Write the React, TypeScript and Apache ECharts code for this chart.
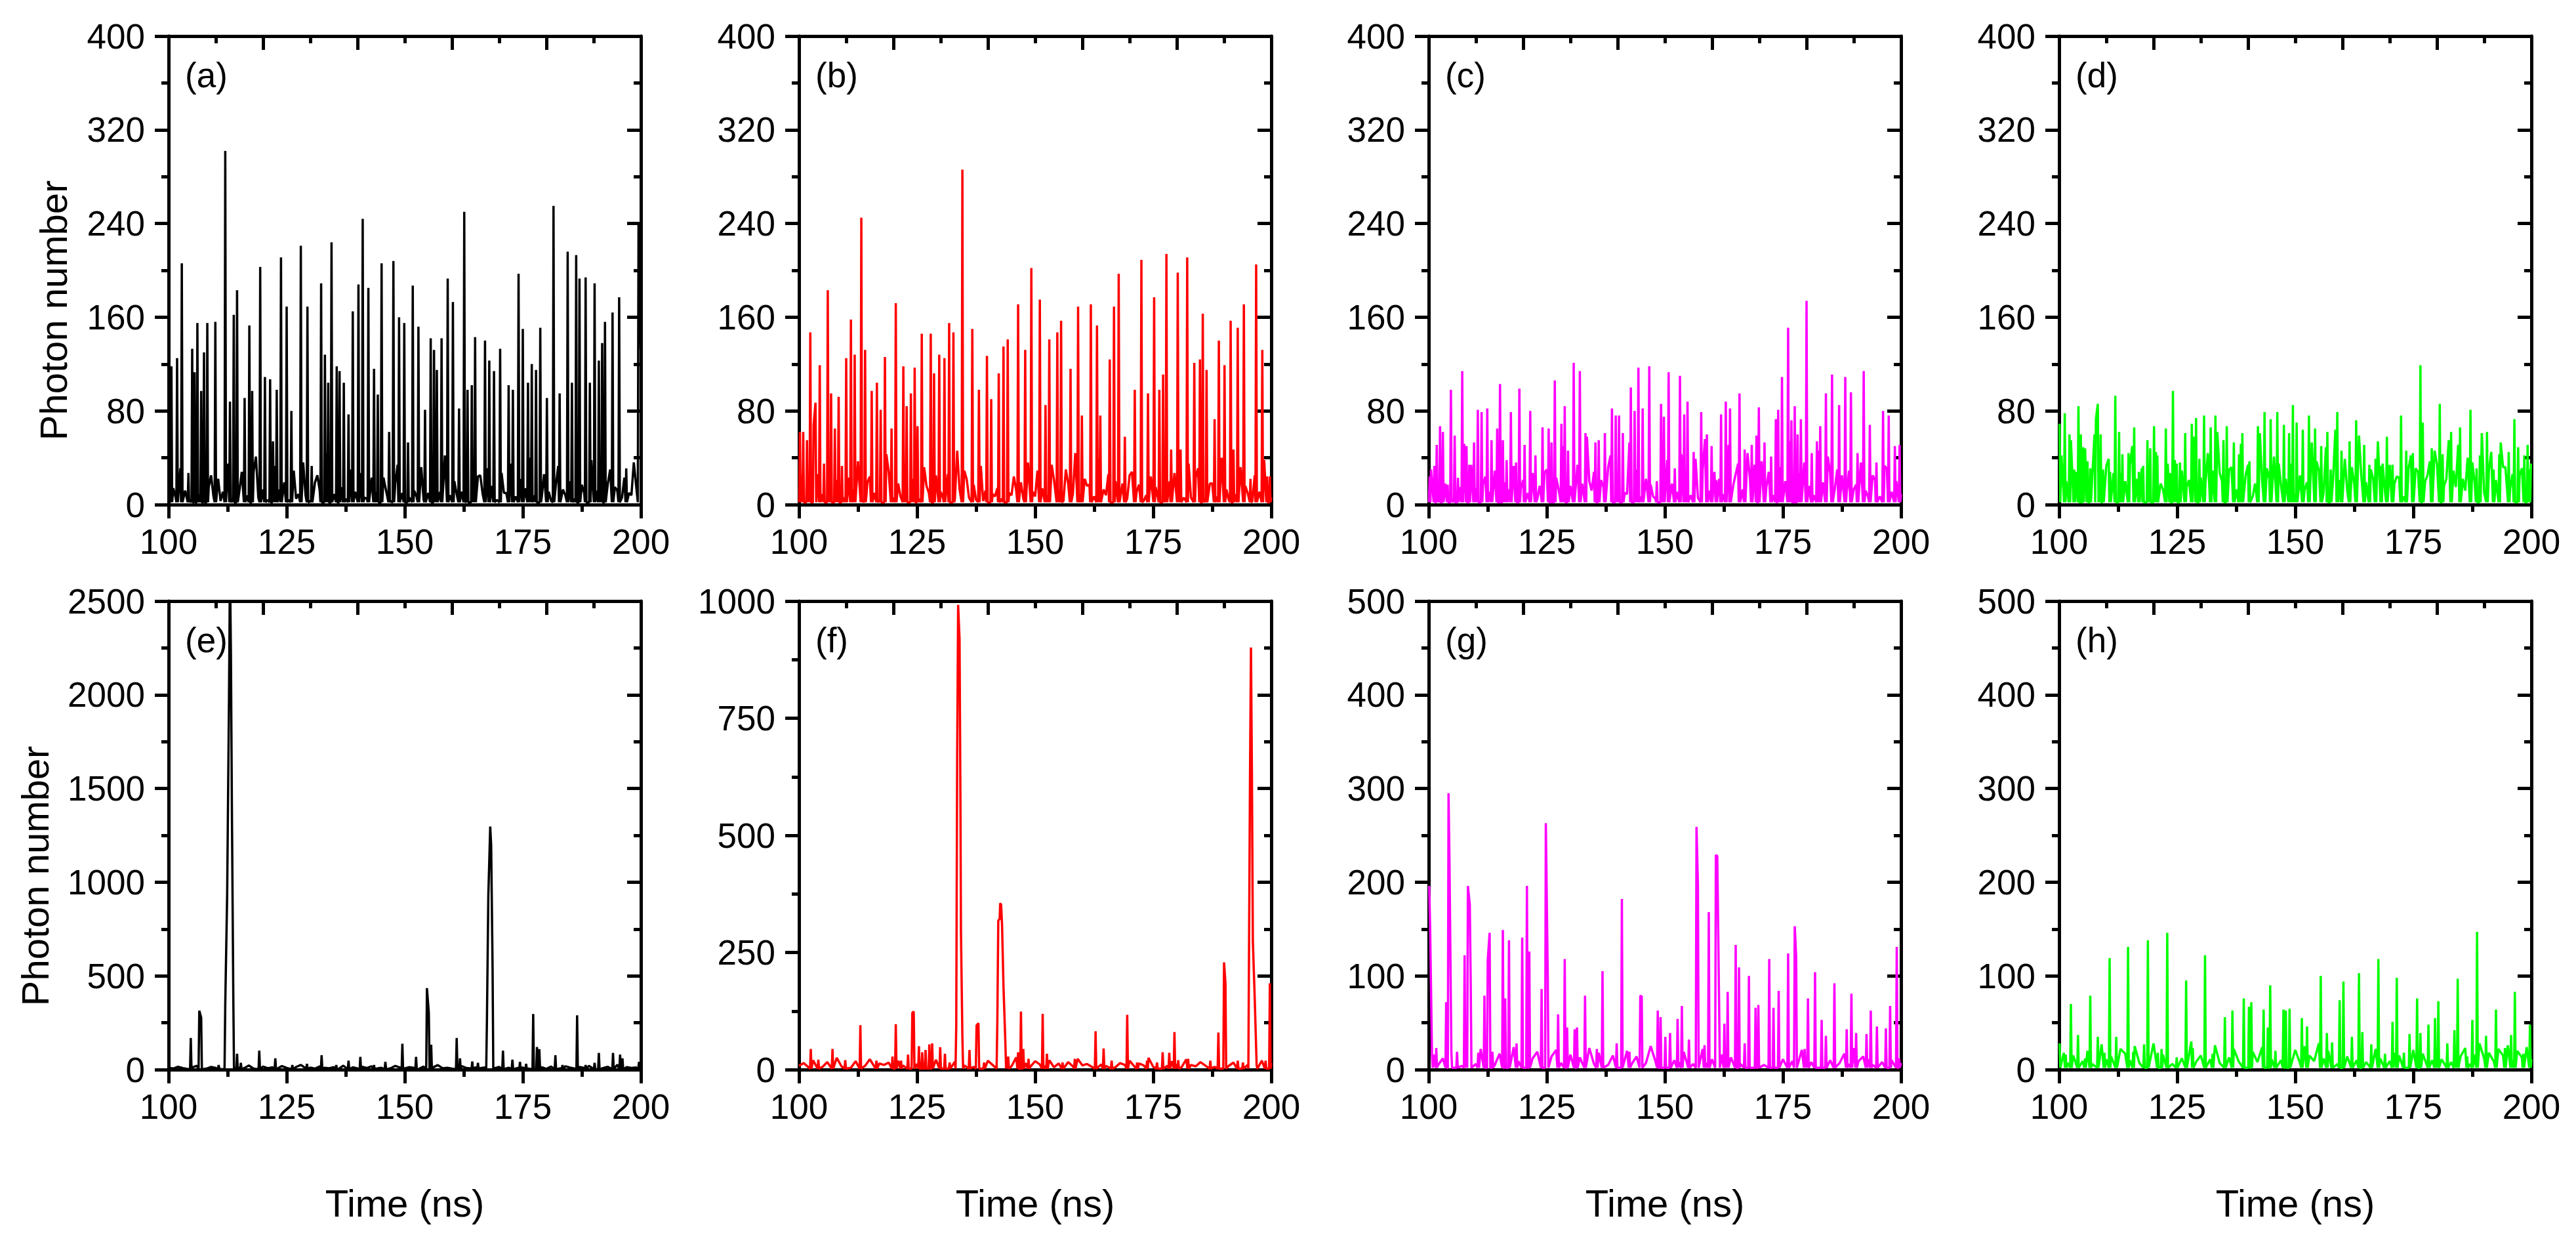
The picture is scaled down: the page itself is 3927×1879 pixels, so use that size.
import React, { useEffect, useRef } from "react";
import * as echarts from "echarts";

// ---------- data ----------
const X_MIN = 100;
const X_MAX = 200;
const X_TICK_STEP = 25;
const X_TOP_TICK_STEP = 20;

const panelLetters = ["(a)", "(b)", "(c)", "(d)", "(e)", "(f)", "(g)", "(h)"];
const yMaxes = [400, 400, 400, 400, 2500, 1000, 500, 500];
const yTickSteps = [80, 80, 80, 80, 500, 250, 100, 100];
const yRightTickSteps = [80, 80, 80, 80, 500, 200, 100, 100];
const xAxisTitle = "Time (ns)";
const yAxisTitle = "Photon number";

// peaks: flat pairs [time (ns), photon number]
const peaksA = [100.6,118, 101.8,125, 102.8,206, 104.2,27, 105.0,133, 105.5,113, 106.1,155, 106.9,97, 107.5,130, 108.2,155, 109.9,156, 112.0,302, 113.0,88, 113.8,162, 114.5,183, 116.1,91, 117.1,153, 117.7,97, 119.4,203, 120.4,109, 121.5,107, 122.1,54, 122.9,98, 123.8,211, 125.0,169, 126.0,80, 128.0,221, 129.4,169, 130.3,33, 132.3,189, 133.1,128, 133.8,104, 134.5,224, 135.6,118, 136.2,114, 137.1,104, 138.1,77, 139.0,165, 140.2,188, 141.1,244, 142.3,185, 143.5,116, 144.3,94, 145.1,206, 146.7,62, 147.6,208, 148.8,160, 149.9,155, 150.7,53, 151.7,187, 152.9,152, 154.3,81, 155.5,142, 156.2,132, 156.8,115, 157.8,142, 159.1,193, 160.2,173, 161.5,82, 162.6,250, 163.3,98, 164.2,102, 164.9,143, 167.0,140, 167.9,123, 168.9,114, 170.2,133, 172.0,102, 172.9,98, 174.1,197, 175.0,150, 176.1,104, 176.9,120, 177.8,115, 178.7,151, 180.1,91, 181.5,255, 182.8,95, 184.5,216, 185.4,104, 186.3,213, 187.0,193, 188.3,194, 189.2,104, 190.2,189, 191.1,123, 191.8,138, 192.4,156, 194.0,164, 195.4,177, 196.9,31, 199.5,239, 199.95,132];
const peaksB = [100.2,62, 100.9,62, 101.7,55, 102.4,147, 103.1,68, 103.5,87, 104.4,119, 105.3,35, 106.1,183, 106.8,95, 107.6,65, 108.4,92, 109.1,33, 110.0,125, 111.0,158, 111.8,128, 113.2,245, 114.0,132, 115.4,97, 116.5,104, 117.3,81, 118.2,126, 119.6,65, 120.5,172, 122.1,118, 122.8,84, 123.7,95, 124.5,117, 125.1,67, 126.0,146, 127.9,146, 128.6,112, 129.7,128, 130.8,125, 131.8,155, 132.7,147, 134.6,286, 136.7,150, 138.1,98, 139.8,127, 140.7,90, 142.3,112, 143.3,135, 144.2,141, 146.4,171, 147.9,132, 149.2,202, 151.0,175, 152.2,85, 153.0,141, 154.7,147, 155.5,157, 157.5,116, 159.1,169, 159.9,76, 161.8,171, 163.1,153, 163.8,76, 165.8,124, 166.7,169, 167.7,197, 169.0,58, 171.1,98, 172.5,209, 173.9,95, 175.2,177, 176.3,98, 177.1,111, 177.8,214, 178.8,47, 180.2,198, 180.8,47, 182.2,211, 183.7,121, 184.9,124, 185.5,163, 186.3,115, 188.0,73, 188.9,140, 190.1,119, 191.4,157, 192.0,47, 192.9,151, 194.2,171, 195.6,22, 196.8,205, 198.1,132, 199.1,24, 199.7,24];
const peaksC = [100.2,24, 101.2,33, 101.7,51, 102.4,67, 103.0,62, 104.0,17, 104.7,98, 105.5,59, 106.2,23, 107.1,114, 108.0,50, 108.6,34, 109.6,53, 110.4,81, 111.2,79, 112.4,82, 113.3,55, 114.5,65, 115.1,103, 115.7,55, 116.5,38, 117.4,79, 118.5,36, 119.2,99, 120.3,51, 121.5,80, 122.6,42, 124.1,66, 125.4,65, 126.0,53, 126.7,106, 128.1,69, 128.8,84, 129.5,46, 130.7,121, 132.0,114, 133.2,61, 135.3,53, 136.0,55, 137.3,61, 138.8,82, 139.6,76, 140.3,76, 141.1,61, 142.8,100, 143.6,80, 144.4,117, 145.3,82, 146.7,118, 148.3,20, 149.2,86, 149.8,75, 150.8,113, 152.1,31, 153.2,110, 154.1,77, 154.8,88, 156.1,45, 157.7,79, 158.9,60, 159.9,50, 160.9,21, 161.9,77, 162.9,88, 163.8,82, 165.8,95, 166.9,47, 168.4,51, 169.4,59, 169.9,83, 171.1,53, 172.5,41, 173.5,73, 174.0,81, 174.8,109, 176.1,151, 176.8,72, 177.5,84, 178.1,60, 178.8,73, 180.0,174, 181.1,44, 182.2,54, 182.9,67, 184.1,95, 185.4,111, 186.9,85, 188.2,109, 189.4,96, 190.8,44, 192.1,114, 193.4,68, 194.8,36, 196.2,80, 197.4,76, 198.7,50, 199.7,51];
const peaksD = [100.1,69, 101.2,78, 102.2,60, 103.2,30, 104.1,84, 104.6,60, 105.1,49, 106.0,37, 106.6,31, 107.8,73, 108.2,86, 108.8,60, 109.3,30, 110.8,28, 111.9,93, 112.7,62, 113.4,43, 114.7,44, 115.9,66, 116.9,28, 117.8,33, 118.7,55, 119.3,48, 120.1,67, 120.8,42, 122.6,65, 123.5,27, 124.1,97, 124.9,35, 125.6,36, 126.7,61, 128.1,69, 129.0,74, 129.7,39, 130.7,76, 132.1,66, 133.1,76, 134.8,55, 135.5,67, 137.0,53, 138.1,43, 138.8,61, 140.3,37, 142.1,67, 143.5,79, 144.8,73, 146.2,79, 147.6,68, 148.7,61, 149.5,85, 150.3,70, 151.6,64, 152.9,76, 154.2,65, 155.5,50, 156.8,62, 157.5,30, 158.9,79, 159.8,46, 161.5,54, 162.9,72, 164.6,51, 165.7,34, 167.0,39, 168.2,33, 169.4,58, 170.6,34, 172.4,76, 173.5,46, 174.9,44, 176.5,119, 177.0,70, 178.9,48, 180.6,86, 181.2,43, 183.0,62, 184.9,66, 187.1,81, 188.4,31, 189.1,42, 190.6,62, 192.0,30, 193.2,43, 195.2,45, 196.4,73, 197.2,49, 198.5,42, 199.2,51, 199.9,35];
const peaksE = [104.7,169, 106.5,314, 106.9,278, 110.6,24, 112.0,350, 112.4,930, 112.8,2005, 113.0,2700, 113.2,2210, 113.4,1413, 113.7,400, 114.5,85, 115.3,36, 119.2,101, 122.6,60, 126.2,24, 129.3,31, 132.4,77, 135.5,24, 138.1,48, 140.6,68, 143.5,24, 145.9,41, 149.5,138, 152.4,68, 154.7,435, 155.1,302, 155.6,133, 161.0,169, 161.7,60, 164.3,43, 165.5,36, 167.4,254, 167.7,930, 168.1,1297, 168.3,1196, 168.6,543, 170.8,101, 172.8,53, 174.4,41, 175.7,31, 177.2,297, 178.0,121, 178.5,109, 181.9,77, 183.4,24, 186.5,290, 188.3,24, 190.2,36, 191.1,89, 194.1,89, 195.6,80, 196.1,60, 199.6,41];
const peaksF = [102.5,44, 104.1,21, 107.1,44, 109.8,20, 113.0,95, 116.4,19, 119.8,28, 120.5,97, 121.6,19, 123.1,32, 124.0,121, 124.3,124, 125.4,50, 126.1,37, 126.8,42, 127.6,54, 128.2,56, 129.9,48, 130.9,34, 131.9,15, 133.3,94, 133.5,675, 133.7,992, 134.0,918, 134.2,550, 134.3,293, 134.6,70, 136.1,42, 137.6,94, 138.0,99, 139.2,15, 142.0,104, 142.2,318, 142.5,322, 142.6,355, 142.8,352, 143.0,308, 143.3,178, 143.7,57, 144.3,28, 146.4,37, 147.0,124, 147.5,44, 148.6,23, 151.6,119, 152.5,34, 155.8,15, 158.4,23, 162.8,82, 164.5,45, 166.2,19, 169.5,117, 171.6,15, 173.7,19, 175.8,15, 177.0,37, 178.4,36, 179.5,80, 180.3,20, 182.4,23, 187.1,19, 188.8,79, 190.0,229, 190.3,184, 192.9,19, 194.0,15, 195.3,273, 195.5,630, 195.7,901, 195.9,637, 196.1,275, 196.5,151, 196.9,10, 198.8,19, 199.7,184];
const peaksG = [100.1,196, 100.3,152, 100.7,15, 101.6,23, 103.7,72, 104.2,295, 104.4,221, 104.8,18, 106.0,19, 107.6,122, 108.3,196, 108.7,176, 108.9,90, 110.5,18, 111.8,79, 112.5,117, 112.9,146, 113.5,19, 115.7,149, 116.2,76, 117.0,138, 118.6,28, 119.8,141, 120.8,196, 121.3,126, 123.9,86, 124.8,263, 125.2,102, 127.4,59, 128.8,118, 129.3,45, 130.9,43, 131.4,45, 133.1,79, 135.6,22, 136.8,105, 139.8,28, 140.9,182, 142.5,19, 144.8,79, 145.1,78, 148.5,63, 149.1,56, 150.1,35, 151.1,39, 152.7,54, 153.6,68, 155.1,32, 156.7,259, 157.0,198, 158.4,26, 159.3,168, 160.8,229, 161.1,228, 161.5,64, 162.6,49, 163.3,83, 165.0,133, 165.7,109, 166.9,28, 167.8,100, 169.2,66, 169.8,69, 172.1,118, 173.0,66, 174.1,84, 176.1,124, 177.5,153, 177.8,121, 179.6,22, 180.3,76, 181.8,104, 183.2,53, 184.1,36, 185.9,92, 188.5,43, 189.5,81, 190.5,39, 192.7,38, 193.6,63, 194.9,46, 196.8,44, 197.7,68, 199.1,131, 199.6,12];
const peaksH = [100.1,28, 101.4,16, 102.5,70, 104.0,37, 105.5,12, 106.6,79, 108.2,35, 109.6,18, 110.7,119, 112.1,35, 114.6,131, 115.7,19, 118.0,27, 118.8,138, 120.9,18, 121.7,22, 122.9,146, 124.9,13, 126.9,95, 128.3,23, 130.9,122, 132.5,17, 135.1,56, 136.7,63, 139.1,76, 140.2,67, 140.7,72, 143.3,64, 144.2,45, 144.7,90, 145.8,20, 147.5,64, 148.0,63, 148.8,65, 151.4,55, 152.5,46, 155.4,100, 156.7,39, 157.8,29, 159.4,74, 160.2,94, 162.0,35, 163.5,103, 164.2,40, 166.1,27, 167.6,118, 169.0,17, 170.6,51, 171.5,98, 173.0,18, 174.2,38, 175.8,76, 176.5,39, 178.2,48, 179.6,55, 180.3,73, 182.2,28, 183.7,42, 184.4,97, 186.4,14, 187.5,53, 188.5,147, 190.4,36, 192.5,64, 194.4,23, 195.7,37, 196.5,83, 198.3,17, 199.7,48];

// low-level background counts, sampled at whole nanoseconds (100–200 ns)
const floorA = [8,14,5,22,9,4,17,11,6,25,10,3,15,7,20,12,5,9,28,6,13,4,18,10,7,24,11,5,16,8,3,19,12,6,27,9,14,4,21,10,7,15,5,23,11,8,13,3,18,9,26,6,12,17,4,10,20,7,14,5,22,9,11,3,16,8,25,6,13,19,4,10,15,7,21,12,5,9,24,6,14,3,17,11,8,20,5,13,10,27,7,15,4,18,9,12,6,23,8,16,10];
const floorB = [12,6,19,4,26,9,15,3,21,8,11,30,5,17,7,24,10,4,14,28,6,18,9,3,22,12,7,16,5,25,11,8,20,4,13,29,6,17,10,3,23,9,14,5,27,8,12,19,4,15,7,26,10,5,21,13,3,18,9,24,6,16,11,4,28,8,14,20,5,12,25,7,17,3,22,10,6,19,13,4,27,9,15,6,23,11,5,18,8,26,12,4,20,7,16,10,3,24,9,14,6];
const floorC = [15,22,8,31,12,5,26,18,9,34,14,7,24,11,29,6,19,13,33,8,21,10,27,5,17,30,12,23,7,35,16,9,25,4,20,28,11,15,32,6,18,24,9,13,30,7,22,17,5,27,14,10,33,8,19,25,12,6,29,16,21,9,31,13,7,26,18,4,23,34,10,15,28,8,20,12,30,6,24,17,11,32,9,19,5,27,14,22,8,29,13,18,35,7,25,10,16,31,11,20,9];
const floorD = [18,30,9,25,14,36,7,22,28,12,33,16,8,27,20,34,11,24,6,31,17,26,13,35,10,21,29,15,32,8,23,19,37,12,27,9,30,18,24,14,34,7,26,20,31,11,28,16,22,35,9,25,13,33,17,29,10,36,21,15,27,12,32,8,24,19,30,14,26,11,34,18,23,7,31,16,28,13,25,20,35,9,22,30,15,27,12,33,18,24,10,29,17,21,32,8,26,14,31,19,23];
const floorE = [10,6,15,8,4,12,20,7,5,14,9,3,18,11,6,13,8,22,5,10,16,7,12,4,19,9,6,14,25,8,11,5,17,10,7,13,4,21,9,12,6,15,8,18,5,10,14,7,20,11,6,13,9,4,16,8,12,24,7,10,5,15,19,9,6,13,8,11,28,7,14,5,10,17,9,12,6,22,8,13,4,16,10,7,18,11,5,14,9,20,6,12,8,15,10,26,7,13,9,11,6];
const floorF = [8,14,5,20,10,6,16,9,25,7,12,4,18,11,8,22,6,13,10,15,5,19,9,28,7,12,16,6,10,21,8,14,5,17,11,9,24,6,13,8,19,10,5,15,12,7,26,9,14,6,18,11,8,20,5,13,10,16,7,23,9,12,6,17,11,8,21,5,14,10,19,7,13,9,25,6,15,11,8,18,12,5,22,10,7,16,9,13,6,20,11,8,15,5,17,10,12,7,19,9,14];
const floorG = [9,16,5,12,20,7,14,4,18,10,6,22,8,13,5,17,11,7,24,9,15,6,12,19,8,5,14,21,7,11,16,4,13,9,23,6,18,10,5,15,12,8,20,6,14,11,7,25,9,13,5,17,10,8,19,12,6,15,22,7,11,4,16,9,13,20,6,10,18,8,14,5,12,24,7,11,16,9,6,21,13,8,15,5,19,10,12,7,17,6,23,9,14,11,5,18,8,13,10,16,7];
const floorH = [12,18,7,15,24,9,20,6,16,27,11,14,8,22,17,10,25,7,19,13,28,9,16,21,6,23,12,18,30,8,15,20,11,26,7,17,13,22,9,29,14,19,8,24,16,11,27,10,18,13,21,7,25,15,9,28,12,20,17,6,23,14,19,10,26,8,16,22,12,29,9,18,15,24,7,21,13,17,27,10,20,11,25,8,19,14,23,6,16,28,12,18,9,22,15,26,10,20,13,24,11];

// small background spikes, sampled at half nanoseconds (100.5–199.5 ns), top row only
const floorA2 = [20,6,31,12,4,26,9,38,15,7,22,11,35,5,18,28,8,14,41,10,24,6,33,13,19,4,29,9,36,16,7,25,12,44,8,21,15,5,30,11,27,6,39,14,9,23,17,4,34,10,26,13,7,32,18,5,28,11,42,8,20,15,6,37,12,24,9,31,16,4,27,10,35,7,22,14,40,8,19,26,11,5,33,13,29,9,21,17,6,38,12,25,8,30,15,4,23,10,36,13];
const floorB2 = [25,8,34,14,5,29,11,40,17,6,23,13,37,4,19,31,9,16,43,11,27,7,35,12,21,5,32,10,38,18,6,26,14,46,9,22,16,4,33,12,28,7,41,15,10,24,19,5,36,11,29,14,8,34,20,6,30,12,44,9,22,17,7,39,13,26,10,33,18,5,28,11,37,8,24,15,42,9,20,27,12,6,35,14,31,10,23,18,7,40,13,27,9,32,16,5,25,11,38,14];
const floorC2 = [30,12,45,18,8,36,15,52,22,9,28,17,48,7,25,40,13,20,55,14,33,10,44,16,27,8,39,13,50,23,9,34,18,58,12,29,21,6,42,15,37,10,53,19,13,31,24,7,47,14,38,18,11,43,26,8,39,16,56,12,28,22,9,51,17,35,13,44,24,7,37,15,49,11,32,20,54,12,27,36,16,8,46,19,41,13,30,25,10,52,17,36,12,43,21,7,33,15,48,18];
const floorD2 = [42,20,55,28,14,48,25,60,33,16,39,27,57,12,36,50,22,31,63,24,45,18,54,26,38,15,49,21,58,34,17,44,29,62,20,40,32,13,52,25,47,18,61,30,22,41,35,14,56,23,48,28,19,53,37,15,49,26,64,21,39,33,17,59,27,45,22,54,35,13,47,24,58,19,42,31,60,20,37,46,26,16,55,29,51,22,40,36,18,61,28,45,21,53,32,14,43,25,57,30];

const allPeaks = [peaksA, peaksB, peaksC, peaksD, peaksE, peaksF, peaksG, peaksH];
const allFloors = [floorA, floorB, floorC, floorD, floorE, floorF, floorG, floorH];
const allFloors2 = [floorA2, floorB2, floorC2, floorD2, [], [], [], []];

// ---------- styling ----------
const COLORS = ["#000000", "#ff0000", "#ff00ff", "#00ff00", "#000000", "#ff0000", "#ff00ff", "#00ff00"];
const FONT = "'Liberation Sans', Arial, Helvetica, sans-serif";
const GRID_LEFT = [257, 1218, 2178, 3139];
const ROW_TOP = [55, 916];
const GW = 720;
const GH = 714;
const AXIS_W = 5;
const TICK_FONT = 53;
const TITLE_FONT = 58;

function buildLine(flat: number[], floor: number[], floor2: number[]): number[][] {
  const FLANK = 0.15;
  const GAP = 0.5;
  const BASE = 2;
  const pk: number[][] = [];
  for (let i = 0; i < flat.length; i += 2) pk.push([flat[i], flat[i + 1]]);
  pk.sort((p, q) => p[0] - q[0]);
  const clusters: number[][][] = [];
  for (const p of pk) {
    const last = clusters[clusters.length - 1];
    if (last && p[0] - last[last.length - 1][0] < GAP - 1e-6) last.push(p);
    else clusters.push([p]);
  }
  const spans = clusters.map((c) => [c[0][0] - FLANK, c[c.length - 1][0] + FLANK]);
  const free = (t: number) => !spans.some((s) => t >= s[0] - 0.05 && t <= s[1] + 0.05);
  const pts: number[][] = [];
  const step = (X_MAX - X_MIN) / (floor.length - 1);
  floor.forEach((v, i) => {
    const t = X_MIN + i * step;
    if (free(t)) pts.push([t, v]);
  });
  if (floor2.length) {
    const step2 = (X_MAX - X_MIN) / floor2.length;
    floor2.forEach((v, i) => {
      const t = X_MIN + (i + 0.5) * step2;
      if (free(t)) pts.push([t, v]);
    });
  }
  clusters.forEach((c) => {
    const s = c[0][0] - FLANK;
    const e = c[c.length - 1][0] + FLANK;
    if (s > X_MIN) pts.push([s, BASE]);
    c.forEach((p) => pts.push(p));
    if (e < X_MAX) pts.push([e, BASE]);
  });
  pts.sort((p, q) => p[0] - q[0]);
  return pts;
}

function buildOption() {
  const grid: any[] = [];
  const xAxis: any[] = [];
  const yAxis: any[] = [];
  const series: any[] = [];
  const graphic: any[] = [];
  const line = { color: "#000", width: AXIS_W };
  const plain = (v: number) => String(v);

  for (let i = 0; i < 8; i++) {
    const col = i % 4;
    const row = Math.floor(i / 4);
    const left = GRID_LEFT[col];
    const top = ROW_TOP[row];
    grid.push({ left, top, width: GW, height: GH, containLabel: false });

    xAxis.push({
      type: "value", gridIndex: i, position: "bottom", min: X_MIN, max: X_MAX, interval: X_TICK_STEP,
      axisLine: { show: true, onZero: false, lineStyle: line },
      axisTick: { show: true, inside: false, length: 21, lineStyle: line },
      minorTick: { show: true, splitNumber: 2, length: 11, lineStyle: line },
      axisLabel: { show: true, fontSize: TICK_FONT, fontFamily: FONT, color: "#000", margin: 30, showMinLabel: true, showMaxLabel: true, formatter: plain },
      splitLine: { show: false }, minorSplitLine: { show: false },
    });
    xAxis.push({
      type: "value", gridIndex: i, position: "top", min: X_MIN, max: X_MAX, interval: X_TOP_TICK_STEP,
      axisLine: { show: true, onZero: false, lineStyle: line },
      axisTick: { show: true, inside: true, length: 21, lineStyle: line },
      minorTick: { show: true, splitNumber: 2, length: 11, lineStyle: line },
      axisLabel: { show: false },
      splitLine: { show: false }, minorSplitLine: { show: false },
    });
    yAxis.push({
      type: "value", gridIndex: i, position: "left", min: 0, max: yMaxes[i], interval: yTickSteps[i],
      axisLine: { show: true, onZero: false, lineStyle: line },
      axisTick: { show: true, inside: false, length: 21, lineStyle: line },
      minorTick: { show: true, splitNumber: 2, length: 11, lineStyle: line },
      axisLabel: { show: true, fontSize: TICK_FONT, fontFamily: FONT, color: "#000", margin: 36, showMinLabel: true, showMaxLabel: true, formatter: plain },
      splitLine: { show: false }, minorSplitLine: { show: false },
    });
    yAxis.push({
      type: "value", gridIndex: i, position: "right", min: 0, max: yMaxes[i], interval: yRightTickSteps[i],
      axisLine: { show: true, onZero: false, lineStyle: line },
      axisTick: { show: true, inside: true, length: 21, lineStyle: line },
      minorTick: { show: true, splitNumber: 2, length: 11, lineStyle: line },
      axisLabel: { show: false },
      splitLine: { show: false }, minorSplitLine: { show: false },
    });

    series.push({
      type: "line",
      name: panelLetters[i],
      xAxisIndex: 2 * i,
      yAxisIndex: 2 * i,
      data: buildLine(allPeaks[i], allFloors[i], allFloors2[i]),
      showSymbol: false,
      symbol: "none",
      clip: true,
      silent: true,
      lineStyle: { color: COLORS[i], width: 3.5 },
      itemStyle: { color: COLORS[i] },
      z: 1,
    });

    graphic.push({
      type: "text", x: left + 25, y: top + 59, z: 10,
      style: { text: panelLetters[i], fontSize: TICK_FONT, fontFamily: FONT, fill: "#000", align: "left", verticalAlign: "middle" },
    });
    if (row === 1) {
      graphic.push({
        type: "text", x: left + GW / 2, y: 1833, z: 10,
        style: { text: xAxisTitle, fontSize: TITLE_FONT, fontFamily: FONT, fill: "#000", align: "center", verticalAlign: "middle" },
      });
    }
  }
  graphic.push({
    type: "text", x: 81, y: 473, rotation: Math.PI / 2, z: 10,
    style: { text: yAxisTitle, fontSize: TITLE_FONT, fontFamily: FONT, fill: "#000", align: "center", verticalAlign: "middle" },
  });
  graphic.push({
    type: "text", x: 53, y: 1335, rotation: Math.PI / 2, z: 10,
    style: { text: yAxisTitle, fontSize: TITLE_FONT, fontFamily: FONT, fill: "#000", align: "center", verticalAlign: "middle" },
  });

  return { animation: false, backgroundColor: "#ffffff", grid, xAxis, yAxis, series, graphic };
}

export default function App() {
  const ref = useRef<HTMLDivElement>(null);
  useEffect(() => {
    if (!ref.current) return;
    const chart = echarts.init(ref.current, undefined, { renderer: "svg" });
    chart.setOption(buildOption() as any);
    return () => chart.dispose();
  }, []);
  return (
    <div
      ref={ref}
      style={{ position: "fixed", left: 0, top: 0, width: "3927px", height: "1879px", background: "#fff" }}
    />
  );
}
